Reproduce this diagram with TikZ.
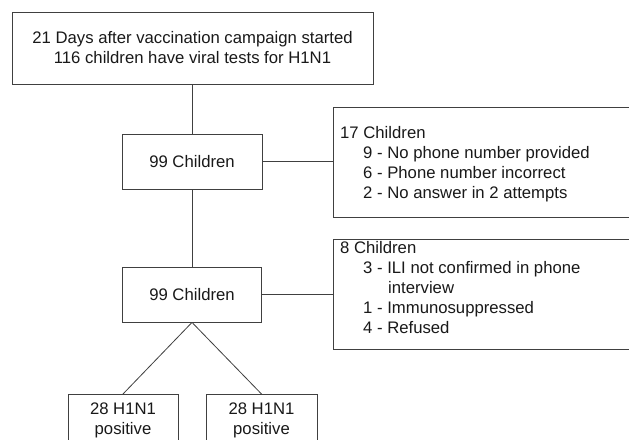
\documentclass[tikz,border=0pt]{standalone}
\usepackage{fontspec}
\setmainfont{Liberation Sans}
\begin{document}
\begin{tikzpicture}[x=1pt,y=-1pt,
  every node/.style={font=\fontsize{16.7}{20}\selectfont, text=black!90},
  box/.style={draw=black!75, line width=0.8pt, rectangle, inner sep=0pt},
  conn/.style={draw=black!75, line width=0.8pt},
  txt/.style={inner sep=0pt, align=left, anchor=north west}]
\useasboundingbox (0,0) rectangle (629,439);
\clip (0,0) rectangle (629,439);
\fill[white] (0,0) rectangle (629,439);
% main column
\node[box, minimum width=361, minimum height=72, align=center] (top) at (192.5,48)
  {21 Days after vaccination campaign started\\116 children have viral tests for H1N1};
\node[box, minimum width=140, minimum height=55] (c1) at (192,161.5) {99 Children};
\node[box, minimum width=139, minimum height=55] (c2) at (192,294.5) {99 Children};
% exclusion boxes (cut at right edge)
\node[box, anchor=north west, minimum width=360, minimum height=110] (e1) at (333,107) {};
\node[txt] (e1t) at (340,126) {17 Children\\
  \hspace*{23pt}9 - No phone number provided\\
  \hspace*{23pt}6 - Phone number incorrect\\
  \hspace*{23pt}2 - No answer in 2 attempts};
\node[box, anchor=north west, minimum width=360, minimum height=110] (e2) at (333,239) {};
\node[txt] (e2t) at (340,241) {8 Children\\
  \hspace*{23pt}3 - ILI not confirmed in phone\\
  \hspace*{48pt}interview\\
  \hspace*{23pt}1 - Immunosuppressed\\
  \hspace*{23pt}4 - Refused};
% bottom boxes (cut at bottom edge)
\node[box, anchor=north, minimum width=110, minimum height=80] (p1) at (123,394) {};
\node[inner sep=0pt, anchor=north, align=center] (p1t) at ([yshift=-9pt]p1.north) {28 H1N1\\positive};
\node[box, anchor=north, minimum width=111, minimum height=80] (p2) at (261.5,394) {};
\node[inner sep=0pt, anchor=north, align=center] (p2t) at ([yshift=-9pt]p2.north) {28 H1N1\\positive};
% connectors
\draw[conn] (top.south -| c1.north) -- (c1.north);
\draw[conn] (c1.south) -- (c2.north);
\draw[conn] (c1.east) -- (c1.east -| e1.west);
\draw[conn] (c2.east) -- (c2.east -| e2.west);
\draw[conn] (c2.south) -- (p1.north);
\draw[conn] (c2.south) -- (p2.north);
\end{tikzpicture}
\end{document}
